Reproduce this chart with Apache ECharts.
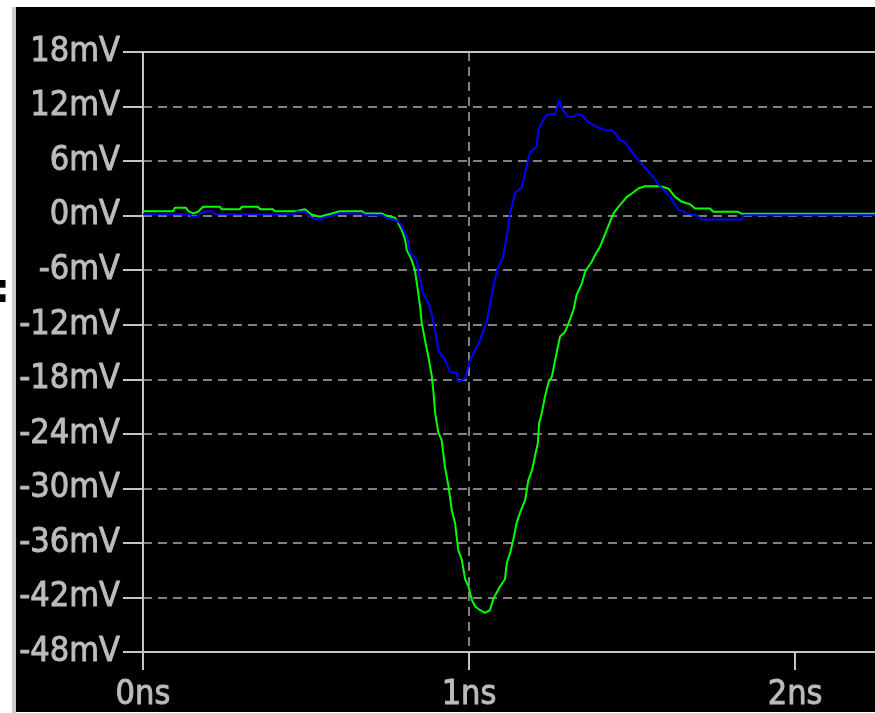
<!DOCTYPE html>
<html>
<head>
<meta charset="utf-8">
<script src="https://cdn.jsdelivr.net/npm/echarts@6/dist/echarts.min.js"></script>
<style>
  html, body { margin: 0; padding: 0; background: #ffffff; }
  #chart { width: 875px; height: 713px; }
</style>
</head>
<body>
<div id="chart"></div>
<script>
// Transient response of two probe voltages (time in ns, voltage in mV)
const greenTime = [0, 0.092, 0.098, 0.132, 0.139, 0.153, 0.169, 0.184, 0.236, 0.241, 0.298, 0.303, 0.353, 0.359, 0.398, 0.405,
  0.469, 0.475, 0.497, 0.502, 0.517, 0.543, 0.552, 0.579, 0.604, 0.671, 0.681, 0.732, 0.748, 0.773,
  0.794, 0.804, 0.809, 0.824, 0.834, 0.840, 0.850, 0.855, 0.865, 0.875, 0.886, 0.891, 0.896, 0.906, 0.916,
  0.926, 0.937, 0.947, 0.957, 0.967, 0.978, 0.988, 0.998, 1.009, 1.019, 1.034, 1.049, 1.064, 1.075, 1.095,
  1.110, 1.116, 1.126, 1.136, 1.146, 1.156, 1.172, 1.182, 1.193, 1.202, 1.211, 1.215, 1.223, 1.233, 1.243,
  1.254, 1.264, 1.279, 1.294, 1.305, 1.320, 1.330, 1.346, 1.356, 1.366, 1.376, 1.387, 1.402, 1.412, 1.422,
  1.443, 1.458, 1.484, 1.499, 1.519, 1.540, 1.586, 1.611, 1.632, 1.653, 1.678, 1.693, 1.739, 1.749, 1.825,
  1.837, 2.3];
const greenMv = [0.49, 0.49, 0.86, 0.86, 0.49, 0.24, 0.42, 0.97, 0.97, 0.71, 0.71, 0.97, 0.97, 0.71, 0.71, 0.49,
  0.49, 0.71, 0.71, 0.49, 0.13, -0.13, -0.02, 0.24, 0.49, 0.49, 0.24, 0.24, -0.02, -0.24,
  -1.59, -2.69, -3.79, -4.89, -5.99, -7.45, -10.0, -11.85, -13.7, -15.5, -17.7, -19.5, -21.7, -23.9, -24.7,
  -27.6, -29.8, -32.4, -33.8, -36.8, -37.9, -40.0, -40.8, -42.3, -43.0, -43.4, -43.7, -43.4, -42.1, -40.8,
  -40.0, -38.2, -37.1, -35.6, -33.8, -32.7, -31.3, -29.1, -28.0, -26.5, -25.0, -22.8, -21.7, -19.9, -18.4,
  -17.7, -15.9, -13.3, -12.8, -11.85, -10.4, -8.7, -7.45, -6.18, -5.6, -5.1, -4.3, -3.4, -2.5, -1.59,
  0.24, 0.97, 2.07, 2.44, 2.99, 3.24, 3.24, 2.99, 2.07, 1.52, 1.26, 0.79, 0.79, 0.42, 0.42,
  0.2, 0.2];

const blueTime = [0, 0.144, 0.147, 0.169, 0.175, 0.195, 0.211, 0.221, 0.466, 0.471, 0.497, 0.502, 0.517, 0.543,
  0.553, 0.579, 0.604, 0.671, 0.681, 0.732, 0.748, 0.773, 0.788, 0.810, 0.819, 0.840, 0.844, 0.859, 0.880,
  0.896, 0.905, 0.926, 0.942, 0.963, 0.966, 0.988, 1.003, 1.034, 1.055, 1.074, 1.086, 1.104, 1.117, 1.126,
  1.141, 1.162, 1.172, 1.177, 1.187, 1.208, 1.212, 1.227, 1.239, 1.264, 1.270, 1.276, 1.284, 1.304, 1.319,
  1.334, 1.346, 1.365, 1.392, 1.417, 1.438, 1.448, 1.463, 1.479, 1.488, 1.518, 1.564, 1.586, 1.617, 1.641,
  1.668, 1.702, 1.713, 1.836, 1.841, 2.3];
const blueMv = [0.16, 0.16, -0.13, -0.13, 0.24, 0.49, 0.49, 0.16, 0.16, 0.42, 0.42, 0.24, -0.24, -0.49,
  -0.24, -0.02, 0.24, 0.24, 0.05, 0.05, -0.31, -0.49, -0.82, -2.36, -4.1, -4.9, -6.0, -8.5, -10.0,
  -12.6, -14.8, -15.9, -17.2, -17.3, -18.3, -17.9, -15.9, -13.7, -11.5, -7.9, -6.0, -4.6, -1.9, 0.27,
  2.47, 3.16, 4.67, 5.55, 7.0, 7.56, 9.4, 10.5, 11.1, 11.2, 11.96, 12.77, 11.8, 10.86, 10.86,
  11.15, 11.04, 10.3, 9.76, 9.4, 9.4, 9.07, 8.3, 8.1, 7.56, 6.18, 4.27, 3.24, 2.07, 0.68,
  0.24, -0.05, -0.42, -0.42, 0.05, 0.05];

const timeTicksNs = [0, 1, 2];
const timeMaxNs = 2.245;   // visible end of the time window
const voltTickStep = 6;
const voltMin = -48;
const voltMax = 18;

const pair = (xs, ys) => xs.map((x, i) => [x, ys[i]]);

const labelFont = '"DejaVu Sans Condensed", "Liberation Sans Narrow", "DejaVu Sans", sans-serif';
const labelGray = '#bcbcbc';
const axisGray = '#c4c4c4';
const gridGray = '#808080';

const labelStyle = {
  show: true, color: labelGray,
  fontFamily: labelFont, fontSize: 34,
  textBorderColor: labelGray, textBorderWidth: 0.9
};

const chart = echarts.init(document.getElementById('chart'), null, { renderer: 'canvas' });

chart.setOption({
  backgroundColor: '#ffffff',
  animation: false,
  graphic: [
    { type: 'rect', z: -20, shape: { x: 12, y: 7, width: 4, height: 706 }, style: { fill: '#cfcbc4' } },
    { type: 'rect', z: -20, shape: { x: 16, y: 7, width: 859, height: 705 }, style: { fill: '#000000' } },
    { type: 'text', z: -10, x: -6, y: 272, style: { text: ':', fill: '#000000', font: 'bold 40px "DejaVu Sans", sans-serif' } }
  ],
  grid: { left: 143, top: 52, bottom: 61, right: 0 },
  xAxis: [
    {
      type: 'value',
      min: 0, max: timeMaxNs, interval: 1,
      axisLine: { show: true, onZero: false, lineStyle: { color: axisGray, width: 2 } },
      axisTick: { show: true, length: 18, lineStyle: { color: axisGray, width: 2 }, customValues: timeTicksNs },
      axisLabel: Object.assign({}, labelStyle, {
        margin: 26,
        customValues: timeTicksNs,
        formatter: v => v + 'ns'
      }),
      splitLine: { show: true, showMinLine: false, showMaxLine: false,
        lineStyle: { color: gridGray, width: 2, type: [9, 6] } }
    },
    {
      // top frame line of the plot area
      type: 'value', position: 'top',
      min: 0, max: timeMaxNs, interval: 1,
      axisLine: { show: true, onZero: false, lineStyle: { color: axisGray, width: 2 } },
      axisTick: { show: false }, axisLabel: { show: false }, splitLine: { show: false }
    }
  ],
  yAxis: {
    type: 'value',
    min: voltMin, max: voltMax, interval: voltTickStep,
    axisLine: { show: true, onZero: false, lineStyle: { color: axisGray, width: 2 } },
    axisTick: { show: true, length: 20, lineStyle: { color: axisGray, width: 2 } },
    axisLabel: Object.assign({}, labelStyle, {
      margin: 23,
      formatter: v => v + 'mV'
    }),
    splitLine: { show: true, showMinLine: false, showMaxLine: false,
      lineStyle: { color: gridGray, width: 2, type: [9, 6] } }
  },
  series: [
    {
      name: 'V(green)', type: 'line', xAxisIndex: 0, data: pair(greenTime, greenMv),
      showSymbol: false, symbol: 'none', clip: true, lineStyle: { color: '#00ff00', width: 2 }, z: 3
    },
    {
      name: 'V(blue)', type: 'line', xAxisIndex: 0, data: pair(blueTime, blueMv),
      showSymbol: false, symbol: 'none', clip: true, lineStyle: { color: '#0000ff', width: 2 }, z: 4
    }
  ]
});
</script>
</body>
</html>
